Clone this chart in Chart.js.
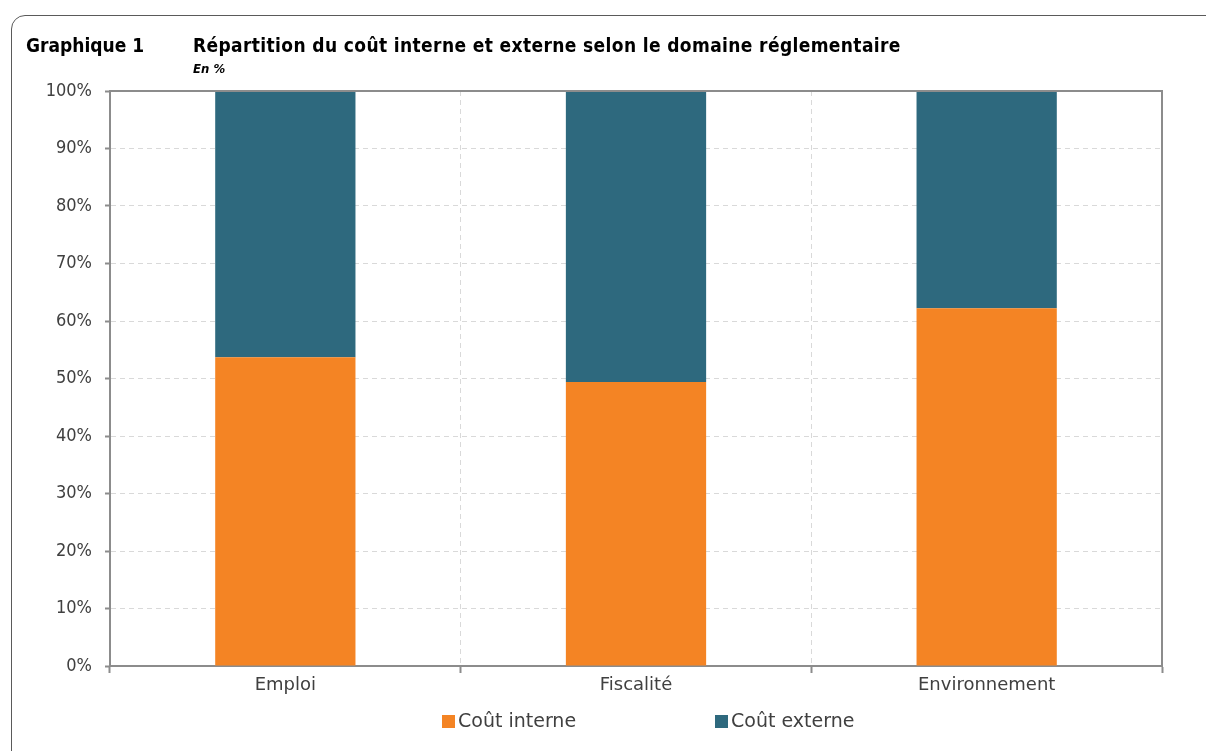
<!DOCTYPE html>
<html>
<head>
<meta charset="utf-8">
<script src="https://cdn.jsdelivr.net/npm/chart.js@4/dist/chart.umd.min.js"></script>
<style>
  html, body { margin: 0; padding: 0; background: #fff; }
  body { width: 1206px; height: 751px; position: relative; overflow: hidden;
         font-family: "DejaVu Sans Condensed", "DejaVu Sans", sans-serif; }
  #frame { position: absolute; left: 11px; top: 15px; width: 1300px; height: 900px;
           border: 1.5px solid #5a5a5a; border-top-left-radius: 14px; box-sizing: border-box; }
  #c { position: absolute; left: 0; top: 0; }
  .t { position: absolute; font-weight: bold; color: #000; white-space: nowrap; }
  #g1 { left: 26px; top: 34px; font-size: 19px; }
  #title { left: 193px; top: 34px; font-size: 19px; letter-spacing: 0.37px; }
  #sub { left: 193px; top: 61px; font-size: 13px; font-style: italic; }
  .leg { position: absolute; top: 709px; font-size: 19px; color: #404040; white-space: nowrap;
         font-family: "DejaVu Sans", sans-serif; }
  .leg span { display: inline-block; width: 13px; height: 13px; margin-right: 3px; vertical-align: -1px; }
</style>
</head>
<body>
<div id="frame"></div>
<canvas id="c" width="1206" height="751"></canvas>
<div class="t" id="g1">Graphique 1</div>
<div class="t" id="title">Répartition du coût interne et externe selon le domaine réglementaire</div>
<div class="t" id="sub">En %</div>
<div class="leg" id="leg1" style="left:442px"><span style="background:#F48424"></span>Coût interne</div>
<div class="leg" id="leg2" style="left:715px"><span style="background:#2E697E"></span>Coût externe</div>
<script>
const categories = ["Emploi", "Fiscalité", "Environnement"];
const coutInterne = [53.7, 49.4, 62.2];
const coutExterne = [46.3, 50.6, 37.8];
const yTicks = [0, 10, 20, 30, 40, 50, 60, 70, 80, 90, 100];

const framePlugin = {
  id: 'frame',
  afterDraw(chart) {
    const a = chart.chartArea, ctx = chart.ctx;
    ctx.save();
    ctx.strokeStyle = '#8c8c8c';
    ctx.lineWidth = 2;
    ctx.beginPath();
    ctx.moveTo(a.left, a.top);
    ctx.lineTo(a.right, a.top);
    ctx.lineTo(a.right, a.bottom);
    ctx.stroke();
    ctx.restore();
  }
};

new Chart(document.getElementById('c'), {
  type: 'bar',
  data: {
    labels: categories,
    datasets: [
      { label: 'Coût interne', data: coutInterne, backgroundColor: '#F48424', barPercentage: 0.4, categoryPercentage: 1 },
      { label: 'Coût externe', data: coutExterne, backgroundColor: '#2E697E', barPercentage: 0.4, categoryPercentage: 1 }
    ]
  },
  options: {
    responsive: false,
    devicePixelRatio: 1,
    animation: false,
    layout: { padding: { left: 0, top: 91, right: 44, bottom: 55 } },
    plugins: { legend: { display: false }, tooltip: { enabled: false } },
    scales: {
      x: {
        stacked: true,
        afterFit(s) { s.height = 30; },
        grid: { color: '#d9d9d9', lineWidth: 1, offset: true, tickLength: 7, tickColor: '#8c8c8c', tickWidth: 2 },
        border: { color: '#8c8c8c', width: 2, dash: [5, 4] },
        ticks: { color: '#404040', font: { family: '"DejaVu Sans", sans-serif', size: 18 }, padding: 2 }
      },
      y: {
        stacked: true,
        min: 0, max: 100,
        afterFit(s) { s.width = 110; },
        afterBuildTicks(s) { s.ticks = yTicks.map(v => ({ value: v })); },
        grid: { color: '#d9d9d9', lineWidth: 1, tickLength: 5, tickColor: '#8c8c8c', tickWidth: 2 },
        border: { color: '#8c8c8c', width: 2, dash: [5, 4] },
        ticks: { color: '#404040', font: { family: '"DejaVu Sans Condensed", "DejaVu Sans", sans-serif', size: 18 }, padding: 13,
                 callback: v => v + '%' }
      }
    }
  },
  plugins: [framePlugin]
});
</script>
</body>
</html>
